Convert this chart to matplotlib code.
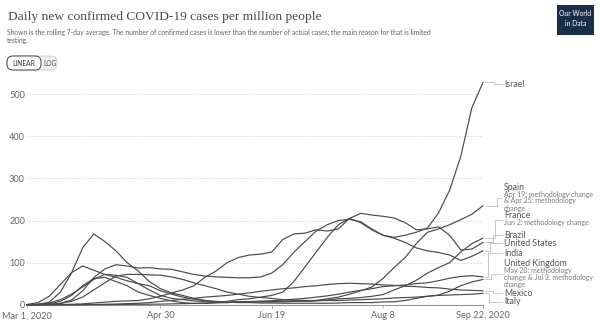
import numpy as np
import pandas as pd
import matplotlib
matplotlib.use('Agg')
import matplotlib.pyplot as plt
import matplotlib.dates as mdates
from matplotlib.lines import Line2D
from matplotlib.patches import FancyBboxPatch, Rectangle
from matplotlib.transforms import IdentityTransform

# ---------------- data (7-day avg cases per million, every 5 days) ----------------
dates = pd.date_range('2020-03-01', periods=42, freq='5D')

israel = [0, 0.5, 2, 8, 22, 45, 62, 65, 55, 45, 30, 22, 15, 9, 5, 3, 3, 5, 8, 12, 14,
          18, 22, 30, 55, 90, 125, 160, 190, 205, 195, 178, 165, 160, 165, 172, 182,
          218, 272, 352, 468, 528]
spain = [0, 1, 6, 30, 75, 135, 168, 150, 128, 100, 80, 55, 38, 28, 22, 15, 10, 6, 5, 6,
         7, 7, 7, 7, 8, 9, 10, 14, 18, 25, 33, 42, 62, 88, 112, 145, 172, 180, 190, 202,
         215, 235]
france = [0.2, 1, 4, 12, 25, 42, 60, 72, 70, 65, 50, 35, 22, 15, 12, 9, 7, 5, 5, 7, 7,
          7, 7, 8, 9, 8, 9, 11, 14, 15, 17, 20, 24, 35, 45, 58, 75, 88, 100, 125, 145, 158]
brazil = [0, 0, 0, 0.2, 1, 2, 4, 6, 8, 9, 10, 14, 20, 28, 35, 45, 65, 80, 100, 112, 118,
          120, 125, 155, 168, 170, 178, 175, 180, 205, 217, 213, 210, 206, 195, 178, 180,
          185, 165, 130, 132, 148]
united_states = [0, 0.1, 0.5, 3, 11, 33, 64, 85, 95, 92, 87, 88, 85, 84, 78, 72, 68, 66,
                 65, 64, 64, 66, 75, 95, 125, 150, 175, 190, 200, 203, 197, 180, 165, 158,
                 148, 135, 128, 124, 118, 105, 115, 128]
india = [0, 0, 0, 0, 0, 0.1, 0.2, 0.3, 0.5, 0.7, 1, 1.2, 1.4, 2, 2.5, 3, 3.8, 4.5, 5.5,
         6.5, 7.5, 8.5, 9.5, 11, 13, 15, 18, 21, 25, 30, 34, 38, 43, 45, 47, 50, 52, 57,
         63, 67, 69, 66]
united_kingdom = [0, 0.2, 1, 3, 8, 18, 35, 52, 68, 72, 72, 71, 70, 66, 60, 52, 45, 38, 30,
                  25, 20, 17, 15, 12, 11, 10, 10, 10, 10, 11, 12, 13, 14, 16, 17, 18, 20,
                  23, 32, 45, 54, 60]
mexico = [0, 0, 0, 0, 0, 0.2, 0.5, 1, 1.5, 2.5, 3.5, 5, 8, 10, 13, 15, 18, 20, 22, 25, 28,
          32, 35, 38, 40, 43, 45, 48, 50, 51, 50, 49, 47, 46, 44, 43, 41, 40, 37, 35, 34, 33]
italy = [0.5, 5, 20, 48, 76, 92, 82, 72, 65, 57, 50, 45, 33, 25, 18, 13, 10, 8, 6, 5, 5,
         4, 4, 3.5, 3.5, 3.5, 3.5, 3.5, 4, 5, 5, 5, 6.5, 7, 10, 15, 20, 22, 23, 24, 25, 27]

country_names = ['Israel', 'Spain', 'France', 'Brazil', 'United States', 'India',
                 'United Kingdom', 'Mexico', 'Italy']
country_values = [israel, spain, france, brazil, united_states, india,
                  united_kingdom, mexico, italy]
notes = {
    'Spain': ['Apr 19: methodology change', '& Apr 25: methodology', 'change'],
    'France': ['Jun 2: methodology change'],
    'United Kingdom': ['May 20: methodology', 'change & Jul 3: methodology', 'change'],
}

y_ticks = [0, 100, 200, 300, 400, 500]
x_tick_dates = ['2020-03-01', '2020-04-30', '2020-06-19', '2020-08-08', '2020-09-22']
x_tick_labels = ['Mar 1, 2020', 'Apr 30', 'Jun 19', 'Aug 8', 'Sep 22, 2020']

title = 'Daily new confirmed COVID-19 cases per million people'
subtitle1 = ('Shown is the rolling 7-day average. The number of confirmed cases is lower '
             'than the number of actual cases; the main reason for that is limited')
subtitle2 = 'testing.'

# ---------------- layout ----------------
W, H = 600, 325
def fx(px):
    return px / W
def fy(py):
    return 1 - py / H

# label layout (pixel rows from top, x of vertical connector segment)
label_rows = {'Israel': (84, 494), 'Spain': (187, 497), 'France': (216, 495),
              'Brazil': (235, 493), 'United States': (243, 490), 'India': (253, 488),
              'United Kingdom': (263.5, 491), 'Mexico': (293, 493), 'Italy': (302, 489)}

FONT = ['Lato', 'DejaVu Sans']
LINE_COLOR = '#4a4a4a'

fig = plt.figure(figsize=(6, 3.25), dpi=100)
fig.patch.set_facecolor('white')

y0, ytop = 304.7, 80.0
ppu = 0.421  # pixels per unit
ax = fig.add_axes([fx(27), fy(y0), (483 - 27) / W, (y0 - ytop) / H])
ax.set_xlim(dates[0], dates[-1])
ax.set_ylim(0, (y0 - ytop) / ppu)

for vals in country_values:
    ax.plot(dates, vals, color=LINE_COLOR, lw=0.85, solid_joinstyle='round',
            clip_on=False, zorder=3)

ax.set_yticks(y_ticks)
ax.set_yticklabels([str(v) for v in y_ticks], family=FONT)
ax.yaxis.grid(True, linestyle=(0, (1.2, 1.6)), color='#cccccc', lw=0.6)
ax.set_axisbelow(True)
ax.tick_params(axis='y', length=0, pad=1.5, labelsize=6.6, labelcolor='#666666')
ax.set_xticks(pd.to_datetime(x_tick_dates))
ax.set_xticklabels(x_tick_labels, family=FONT)
ax.tick_params(axis='x', length=2.5, width=0.6, color='#aaaaaa', pad=2.2,
               labelsize=6.6, labelcolor='#666666')
for s in ['top', 'right', 'left']:
    ax.spines[s].set_visible(False)
ax.spines['bottom'].set_color('#9a9a9a')
ax.spines['bottom'].set_linewidth(0.8)

# ---------------- labels and connectors ----------------
fig.canvas.draw()
ident = IdentityTransform()
xend = mdates.date2num(dates[-1])
for name, vals in zip(country_names, country_values):
    row, vx = label_rows[name]
    sub = notes.get(name, [])
    step = 7.0
    block_center = row + step * len(sub) / 2.0
    ex, ey = ax.transData.transform((xend, vals[-1]))
    ty = H - block_center
    xs = [ex + 2, vx, vx, 502]
    ys = [ey, ey, ty, ty]
    fig.add_artist(Line2D(xs, ys, transform=ident, color='#bdbdbd', lw=0.6))
    fig.text(fx(504), fy(row), name, fontsize=6.3, color='#555555', family=FONT,
             va='center', ha='left')
    for k, s in enumerate(sub):
        fig.text(fx(504), fy(row + step * (k + 1)), s, fontsize=5.0, color='#7a7a7a',
                 family=FONT, va='center', ha='left')

# ---------------- header ----------------
fig.text(fx(8), fy(17), title, fontsize=9.7, family=['Liberation Serif', 'DejaVu Serif'],
         color='#4a4a4a', va='center', ha='left')
fig.text(fx(7), fy(32), subtitle1, fontsize=4.9, family=FONT, color='#636363',
         va='center', ha='left')
fig.text(fx(7), fy(41), subtitle2, fontsize=4.9, family=FONT, color='#636363',
         va='center', ha='left')

# toggle LINEAR | LOG
bg = FancyBboxPatch((7, H - 70), 50, 14, boxstyle='round,pad=0,rounding_size=6',
                    transform=ident, fc='#eeeeee', ec='#cccccc', lw=0.6)
fig.add_artist(bg)
lin = FancyBboxPatch((7, H - 70), 34, 14, boxstyle='round,pad=0,rounding_size=6',
                     transform=ident, fc='white', ec='#444444', lw=0.7)
fig.add_artist(lin)
fig.text(fx(24), fy(63), 'LINEAR', fontsize=4.8, family=FONT, color='#333333',
         va='center', ha='center')
fig.text(fx(49.5), fy(63), 'LOG', fontsize=4.8, family=FONT, color='#555555',
         va='center', ha='center')

# logo
logo = Rectangle((557, H - 35), 37, 30, transform=ident, fc='#1a2e4a', ec='none')
fig.add_artist(logo)
fig.text(fx(575.5), fy(14), 'Our World', fontsize=4.9, family=FONT, color='white',
         va='center', ha='center')
fig.text(fx(575.5), fy(24), 'in Data', fontsize=4.9, family=FONT, color='white',
         va='center', ha='center')

fig.savefig('out.png', dpi=100)
